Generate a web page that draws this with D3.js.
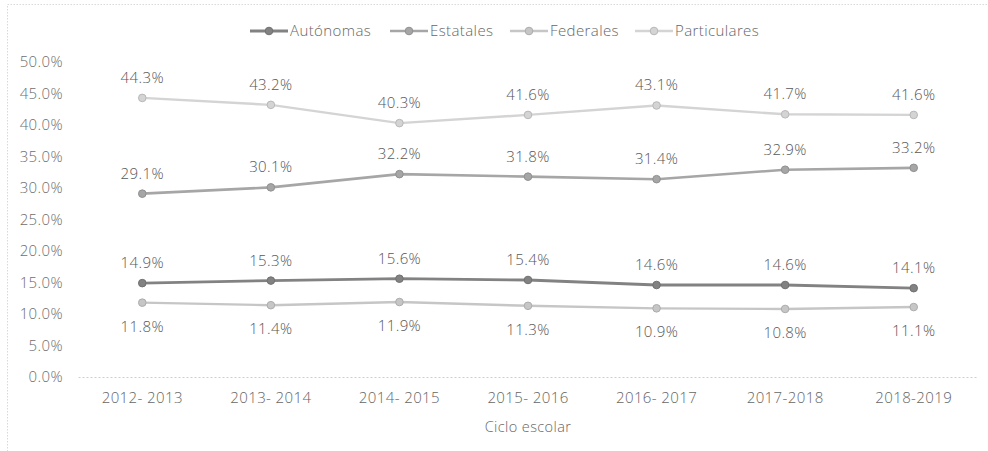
<!DOCTYPE html>
<html>
<head>
<meta charset="utf-8">
<script src="https://cdn.jsdelivr.net/npm/d3@7"></script>
<style>
  body { margin: 0; background: #fff; }
  text { font-family: "Open Sans", sans-serif; font-weight: 300; letter-spacing: 0.4px; }
</style>
</head>
<body>
<div class="chart"></div>
<script>
var svgWidth = 988;
var svgHeight = 451;

// data
var ciclos = ["2012- 2013", "2013- 2014", "2014- 2015", "2015- 2016", "2016- 2017", "2017-2018", "2018-2019"];
var seriesNames = ["Autónomas", "Estatales", "Federales", "Particulares"];
var autonomas = [14.9, 15.3, 15.6, 15.4, 14.6, 14.6, 14.1];
var estatales = [29.1, 30.1, 32.2, 31.8, 31.4, 32.9, 33.2];
var federales = [11.8, 11.4, 11.9, 11.3, 10.9, 10.8, 11.1];
var particulares = [44.3, 43.2, 40.3, 41.6, 43.1, 41.7, 41.6];
var yTicks = [0, 5, 10, 15, 20, 25, 30, 35, 40, 45, 50];

var series = [
  { name: seriesNames[0], values: autonomas, color: "#828282", width: 2.8, labelPos: "above" },
  { name: seriesNames[1], values: estatales, color: "#a6a6a6", width: 2.6, labelPos: "above" },
  { name: seriesNames[2], values: federales, color: "#c6c6c6", width: 2.4, labelPos: "below" },
  { name: seriesNames[3], values: particulares, color: "#d4d4d4", width: 2.4, labelPos: "above" }
];

var margin = { top: 62, right: 10, bottom: 74, left: 78 };
var width = 900;
var height = 377 - margin.top;

var svg = d3.select(".chart")
  .append("svg")
  .attr("width", svgWidth)
  .attr("height", svgHeight);

// chart border
svg.append("rect")
  .attr("x", 7.5)
  .attr("y", 4.5)
  .attr("width", 1000)
  .attr("height", 500)
  .attr("fill", "none")
  .attr("stroke", "#d9d9d9")
  .attr("stroke-dasharray", "1.5,1.5");

var chartGroup = svg.append("g")
  .attr("transform", `translate(${margin.left}, ${margin.top})`);

var xScale = d3.scaleBand()
  .domain(ciclos)
  .range([0, width]);

var yScale = d3.scaleLinear()
  .domain([0, 50])
  .range([height, 0]);

// y axis labels
var yAxis = d3.axisLeft(yScale)
  .tickValues(yTicks)
  .tickSize(0)
  .tickPadding(15)
  .tickFormat(d => d.toFixed(1) + "%");

var yAxisG = chartGroup.append("g").call(yAxis);
yAxisG.select(".domain").remove();
yAxisG.selectAll("text")
  .attr("font-size", "15px")
  .attr("fill", "#6e6e6e")
  .style("font-family", "'Open Sans', sans-serif")
  .style("font-weight", 300);

// x axis
var xAxis = d3.axisBottom(xScale)
  .tickSize(0)
  .tickPadding(15);

var xAxisG = chartGroup.append("g")
  .attr("transform", `translate(0, ${height})`)
  .call(xAxis);
xAxisG.select(".domain")
  .attr("stroke", "#cfcfcf")
  .attr("stroke-dasharray", "2,2");
xAxisG.selectAll("text")
  .attr("font-size", "15px")
  .attr("fill", "#666")
  .style("font-family", "'Open Sans', sans-serif")
  .style("font-weight", 300);

var line = d3.line()
  .x((d, i) => xScale(ciclos[i]) + xScale.bandwidth() / 2)
  .y(d => yScale(d));

series.forEach(function(s) {
  chartGroup.append("path")
    .datum(s.values)
    .attr("d", line)
    .attr("fill", "none")
    .attr("stroke", s.color)
    .attr("stroke-width", s.width);

  chartGroup.selectAll(null)
    .data(s.values)
    .enter()
    .append("circle")
    .attr("cx", (d, i) => xScale(ciclos[i]) + xScale.bandwidth() / 2)
    .attr("cy", d => yScale(d))
    .attr("r", 3.8)
    .attr("fill", s.color)
    .attr("stroke", d3.color(s.color).darker(0.4))
    .attr("stroke-width", 1);

  chartGroup.selectAll(null)
    .data(s.values)
    .enter()
    .append("text")
    .attr("x", (d, i) => xScale(ciclos[i]) + xScale.bandwidth() / 2)
    .attr("y", d => yScale(d) + (s.labelPos === "above" ? -15 : 29))
    .attr("text-anchor", "middle")
    .attr("font-size", "15px")
    .attr("fill", "#585858")
    .text(d => d.toFixed(1) + "%");
});

// axis title
chartGroup.append("text")
  .attr("x", width / 2)
  .attr("y", height + 55)
  .attr("text-anchor", "middle")
  .attr("font-size", "14.5px")
  .attr("fill", "#666")
  .text("Ciclo escolar");

// legend
var legendX = [250, 390, 510, 635];
var legend = svg.append("g");
series.forEach(function(s, i) {
  var g = legend.append("g")
    .attr("transform", `translate(${legendX[i]}, 31)`);
  g.append("line")
    .attr("x1", 0)
    .attr("x2", 38)
    .attr("stroke", s.color)
    .attr("stroke-width", s.width);
  g.append("circle")
    .attr("cx", 19)
    .attr("r", 3.8)
    .attr("fill", s.color)
    .attr("stroke", d3.color(s.color).darker(0.4));
  g.append("text")
    .attr("x", 40)
    .attr("y", 5)
    .attr("font-size", "15px")
    .attr("fill", "#666")
    .text(s.name);
});
</script>
</body>
</html>
